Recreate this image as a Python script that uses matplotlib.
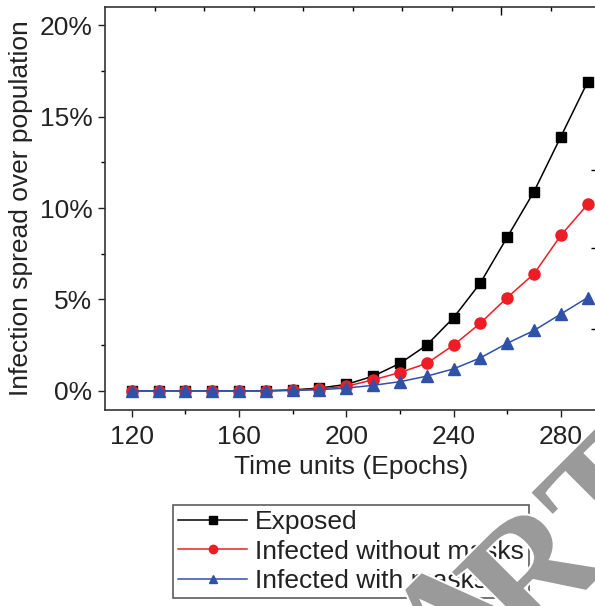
import matplotlib
matplotlib.use("Agg")
import matplotlib.pyplot as plt
import matplotlib.patheffects as pe
from matplotlib.ticker import MultipleLocator, FixedLocator, NullFormatter, FuncFormatter

plt.rcParams['font.family'] = ['Liberation Sans', 'DejaVu Sans']

epochs = [120, 130, 140, 150, 160, 170, 180, 190, 200, 210, 220, 230, 240, 250, 260, 270, 280, 290]
exposed = [0, 0, 0, 0, 0, 0, 0.05, 0.15, 0.35, 0.8, 1.5, 2.5, 4.0, 5.9, 8.4, 10.9, 13.9, 16.9]
infected_no_mask = [0, 0, 0, 0, 0, 0, 0.03, 0.1, 0.25, 0.6, 1.0, 1.5, 2.5, 3.7, 5.1, 6.4, 8.5, 10.2]
infected_mask = [0, 0, 0, 0, 0, 0, 0.02, 0.06, 0.15, 0.3, 0.5, 0.8, 1.2, 1.8, 2.6, 3.3, 4.2, 5.1]
labels = ["Exposed", "Infected without masks", "Infected with masks"]

W, H = 595, 606
fig = plt.figure(figsize=(W / 100, H / 100), dpi=100)
rect = [105 / W, 1 - 410 / H, (597 - 105) / W, (410 - 7) / H]
ax = fig.add_axes(rect)

fs = 19
tc = '#222222'
ax.plot(epochs, exposed, color='black', lw=1.1, marker='s', ms=7.2, label=labels[0], zorder=3)
ax.plot(epochs, infected_no_mask, color='#ee1c25', lw=1.1, marker='o', ms=8, label=labels[1], zorder=4)
ax.plot(epochs, infected_mask, color='#2f52a6', lw=1.1, marker='^', ms=8.5, label=labels[2], zorder=5)

ax.set_xlim(110, 293.5)
ax.set_ylim(-1.05, 21)
ax.xaxis.set_major_locator(MultipleLocator(40))
ax.xaxis.set_minor_locator(MultipleLocator(20))
ax.yaxis.set_major_locator(MultipleLocator(5))
ax.yaxis.set_minor_locator(MultipleLocator(2.5))
ax.yaxis.set_major_formatter(FuncFormatter(lambda v, p: f"{v:.0f}%"))
ax.tick_params(axis='both', which='major', direction='out', length=5, width=1, labelsize=fs, colors=tc)
ax.tick_params(axis='both', which='minor', direction='out', length=3, width=1)
ax.tick_params(axis='x', pad=6)
ax.tick_params(axis='y', pad=4)
for s in ax.spines.values():
    s.set_linewidth(1.2)
    s.set_color('#333333')

ax.set_xlabel("Time units (Epochs)", fontsize=fs, labelpad=4, color=tc)
ax.set_ylabel("Infection spread over population", fontsize=fs, labelpad=5, color=tc)

# top and right inward ticks (independent overlay)
ov = fig.add_axes(rect, frameon=False)
ov.patch.set_visible(False)
ov.set_xlim(0, (597 - 105) / 49.5)
ov.set_ylim(-1.05, 21)
ov.xaxis.set_major_locator(FixedLocator([8]))
ov.xaxis.set_minor_locator(FixedLocator([1, 2, 3, 4, 5, 6, 7, 9]))
ov.yaxis.set_major_locator(FixedLocator([3.4, 7.8, 12.1]))
ov.xaxis.set_major_formatter(NullFormatter())
ov.yaxis.set_major_formatter(NullFormatter())
ov.tick_params(axis='x', which='both', bottom=False, top=True, labelbottom=False, direction='in', width=1)
ov.tick_params(axis='x', which='major', length=6)
ov.tick_params(axis='x', which='minor', length=3)
ov.tick_params(axis='y', left=False, right=True, labelleft=False, direction='in', length=4, width=1)

handles, lbls = ax.get_legend_handles_labels()
leg = fig.legend(handles, lbls, loc='upper left', bbox_to_anchor=(173 / W, 1 - 505 / H),
                 fontsize=fs, frameon=True, fancybox=False, borderaxespad=0,
                 handlelength=2.6, handletextpad=0.3, labelspacing=0.2,
                 borderpad=0.2, markerscale=0.75)
leg.get_frame().set_edgecolor('#333333')
leg.get_frame().set_linewidth(1.2)
for t in leg.get_texts():
    t.set_color(tc)

wm_style = dict(rotation=45, rotation_mode='anchor', ha='left', va='baseline',
                fontsize=118, family='Liberation Serif', weight='bold',
                color='#9a9a9a', zorder=20)
for txt, (px, py) in (("A", (448, 700)), ("RTICLE", (526, 650))):
    wm = fig.text(px / W, 1 - py / H, txt, **wm_style)
    wm.set_path_effects([pe.withStroke(linewidth=3, foreground='white')])

fig.savefig("out.png", dpi=100)
